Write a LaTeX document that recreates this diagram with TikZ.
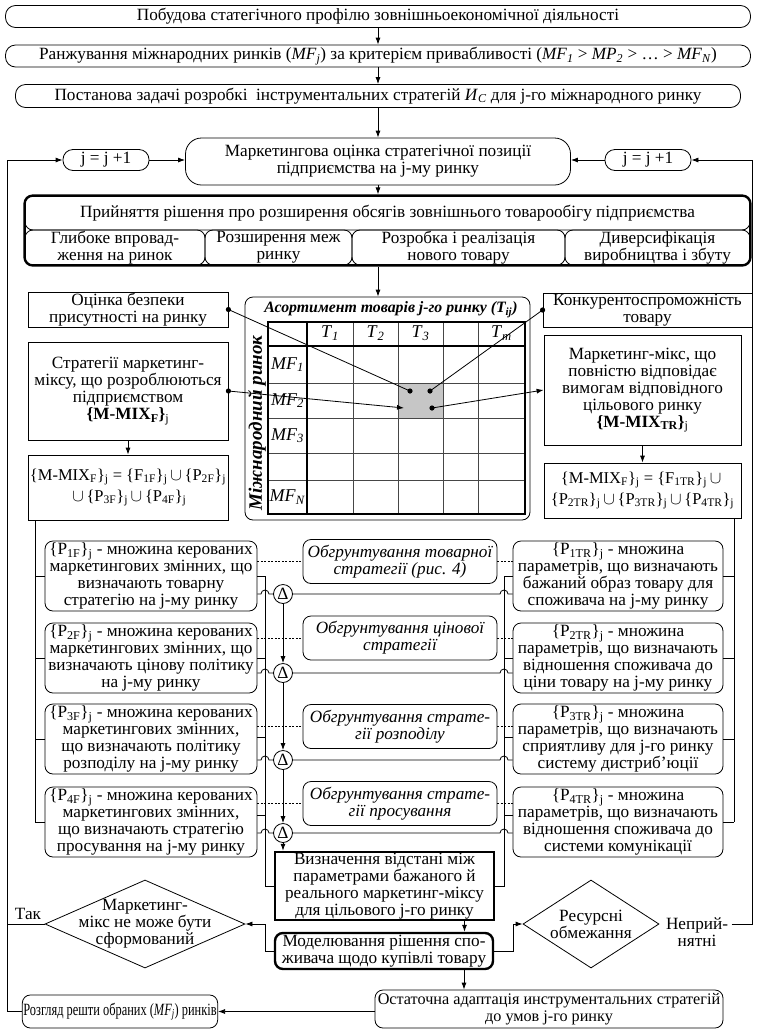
\documentclass[tikz,border=0pt]{standalone}
\usepackage{fontspec}
\setmainfont{Liberation Serif}
\usetikzlibrary{arrows.meta, positioning, shapes.geometric, fit, calc}
\newcommand\fs{\fontsize{17.2}{17}\selectfont}
\newcommand\fsf{\fontsize{16.5}{21}\selectfont}
\newcommand\sub[1]{\textsubscript{#1}}
\newcommand\imf[1]{\textit{MF}\textsubscript{\textit{#1}}}
\newcommand\pp[1]{\{P\textsubscript{#1}\}\textsubscript{j}}
\newcommand\ff[1]{\{F\textsubscript{#1}\}\textsubscript{j}}
\newcommand\cupp{\,$\cup$\,}

\begin{document}
\begin{tikzpicture}[x=1pt, y=-1pt, line width=0.8pt,
  every node/.style={font=\fs},
  rbox/.style={draw, rounded corners=8pt, align=center, inner sep=1pt},
  sbox/.style={draw, align=center, inner sep=1pt},
  tbox/.style={draw, rounded corners=8pt, line width=2.4pt},
  pbox/.style={rbox, minimum width=212pt, minimum height=70pt},
  qbox/.style={rbox, minimum width=210pt, minimum height=70pt},
  obox/.style={rbox, minimum width=194pt, minimum height=44pt, font=\fs\itshape},
  dlt/.style={circle, draw, inner sep=0pt, minimum size=19pt},
  dia/.style={diamond, draw, inner sep=0pt},
  dsh/.style={dashed, dash pattern=on 2pt off 1.5pt, line width=0.6pt},
  gline/.style={line width=0.7pt, gray!55!black},
  cellt/.style={font=\fontsize{18}{18}\selectfont},
  arr/.style={-{Latex[length=7pt,width=5pt]}}
]
\useasboundingbox (0,0) rectangle (756,1029);
\coordinate (lft) at (7,0);
\coordinate (rgt) at (752,0);
\coordinate (flb) at (35,0);
\coordinate (frb) at (734,0);
\coordinate (lb) at (265,0);
\coordinate (rb) at (504,0);
\coordinate (mr) at (513,0);

% top chain
\node[rbox, rounded corners=10pt, minimum width=745pt, minimum height=22pt] (prof) at (378,16.5) {Побудова статегічного профілю зовнішньоекономічної діяльності};
\node[rbox, rounded corners=10pt, minimum width=745pt, minimum height=22pt] (rank) at (378,56) {Ранжування міжнародних ринків (\imf{j}) за критерієм привабливості (\imf{1} > \textit{MP}\sub{\textit{2}} > … > \imf{N})};
\node[rbox, rounded corners=10pt, minimum width=725pt, minimum height=23pt] (task) at (378,96) {Постанова задачі розробкі\ \ інструментальних стратегій \textit{И}\sub{\textit{C}} для j-го міжнародного ринку};
\node[rbox, rounded corners=16pt, minimum width=385pt, minimum height=47pt] (mark) at (378,161.5) {Маркетингова оцінка стратегічної позиції\\підприємства на j-му ринку};
\node[rbox, rounded corners=10pt, minimum width=86pt, minimum height=21pt] (jl) at (106,160) {j = j +1};
\node[rbox, rounded corners=10pt, minimum width=86pt, minimum height=21pt] (jr) at (648,160) {j = j +1};
\draw[arr] (prof) -- (rank);
\draw[arr] (rank) -- (task);
\draw[arr] (task) -- (mark);
\draw[arr] (jl.east) -- (jl.east -| mark.west);
\draw[arr] (jr.west) -- (jr.west -| mark.east);

% decision block
\node[rbox, minimum width=725pt, minimum height=34pt] (acpt) at (387.5,213) {Прийняття рішення про розширення обсягів зовнішнього товарообігу підприємства};
\node[rbox, minimum width=180pt, minimum height=35pt] (w1) at (115,247.5) {Глибоке впровад-\\ження на ринок};
\node[rbox, minimum width=147pt, minimum height=35pt] (w2) at (278.5,247.5) {Розширення меж\\ринку};
\node[rbox, minimum width=213pt, minimum height=35pt] (w3) at (458.5,247.5) {Розробка і реалізація\\нового товару};
\node[rbox, minimum width=185pt, minimum height=35pt] (w4) at (657.5,247.5) {Диверсифікація\\виробництва і збуту};
\node[tbox, fit=(acpt)(w1)(w4), inner sep=0pt] (acptall) {};
\draw[arr] (mark.south) -- (mark.south |- acptall.north);

% assortment table
\node[rbox, minimum width=285pt, minimum height=223pt] (asrt) at (387.5,408.5) {};
\draw[arr] (acptall.south -| mark.south) -- (mark.south |- asrt.north);
\node[font=\fontsize{15.8}{16}\selectfont\bfseries\itshape] (asrtT) at (391,310) {Асортимент товарів j-го ринку (\textit{T}\sub{ij})};
\node[rotate=90, font=\fontsize{19}{19}\selectfont\bfseries\itshape] (mrk) at (257,423) {Міжнародний ринок};
\fill[gray!45] (398,383) rectangle (443,418);
\foreach \cx in {353,398,443,478} \draw[gline] (\cx,322) -- (\cx,514);
\foreach \ry in {383,418,453,480} \draw[gline] (268,\ry) -- (525,\ry);
\draw[line width=2.4pt] (268,322) rectangle (525,514);
\draw[line width=2.4pt] (307,322) -- (307,514) (268,346) -- (525,346);
\foreach \cx/\tl in {330/1, 375.5/2, 420.5/3, 501.5/m}
  \node[cellt] (t\tl) at (\cx,333) {\textit{T}\sub{\textit{\tl}}};
\foreach \ry/\rl in {364.5/1, 400.5/2, 435.5/3, 497/N}
  \node[cellt] (r\rl) at (287.5,\ry) {\textit{MF}\sub{\textit{\rl}}};
\coordinate (pa) at (410,391);
\coordinate (pb) at (430,391);
\coordinate (pc) at (432,408);
\coordinate (pd) at (404,408);

% firm side
\node[sbox, minimum width=200pt, minimum height=35pt] (safe) at (128,309.5) {Оцінка безпеки\\присутності на ринку};
\node[sbox, minimum width=200pt, minimum height=98pt] (smix) at (128,391) {Стратегії маркетинг-\\міксу, що розроблюються\\підприємством\\\textbf{\{M-MIX\sub{F}\}}\sub{j}};
\node[sbox, minimum width=200pt, minimum height=65pt, font=\fsf] (fmlF) at (128,487.5) {\{M-MIX\sub{F}\}\sub{j} = \ff{1F}\cupp\pp{2F}\\\cupp\pp{3F}\cupp\pp{4F}};
\draw[arr] (smix) -- (fmlF);

% target market side
\node[sbox, minimum width=209pt, minimum height=34pt] (comp) at (647.5,310) {Конкурентоспроможність\\товару};
\node[sbox, minimum width=197pt, minimum height=110pt] (tmix) at (642.5,390) {Маркетинг-мікс, що\\повністю відповідає\\вимогам відповідного\\цільового ринку\\\textbf{\{M-MIX\sub{TR}\}}\sub{j}};
\node[sbox, minimum width=197pt, minimum height=55pt, font=\fsf] (fmlT) at (642.5,490.5) {\{M-MIX\sub{F}\}\sub{j} = \ff{1TR}\cupp\\\pp{2TR}\cupp\pp{3TR}\cupp\pp{4TR}};
\draw[arr] (tmix) -- (fmlT);

\draw (safe.east) -- (pa);
\draw[arr] (smix.east) -- (pd);
\draw (pb) -- (comp.west);
\draw[arr] (pc) -- (tmix.west);
\foreach \p in {safe.east, smix.east, pa, pb, pc, comp.west} \fill (\p) circle (2.6pt);

% controlled variables
\node[pbox] (pf1) at (151,576) {\pp{1F} - множина керованих\\маркетингових змінних, що\\визначають товарну\\стратегію на j-му ринку};
\node[pbox] (pf2) at (151,658) {\pp{2F} - множина керованих\\маркетингових змінних, що\\визначають цінову політику\\на j-му ринку};
\node[pbox] (pf3) at (151,739) {\pp{3F} - множина керованих\\маркетингових змінних,\\що визначають політику\\розподілу на j-му ринку};
\node[pbox] (pf4) at (151,822) {\pp{4F} - множина керованих\\маркетингових змінних,\\що визначають стратегію\\просування на j-му ринку};

\node[qbox] (pt1) at (618,576) {\pp{1TR} - множина\\параметрів, що визначають\\бажаний образ товару для\\споживача на j-му ринку};
\node[qbox] (pt2) at (618,658) {\pp{2TR} - множина\\параметрів, що визначають\\відношення споживача до\\ціни товару на j-му ринку};
\node[qbox] (pt3) at (618,739) {\pp{3TR} - множина\\параметрів, що визначають\\сприятливу для j-го ринку\\систему дистриб’юції};
\node[qbox] (pt4) at (618,822) {\pp{4TR} - множина\\параметрів, що визначають\\відношення споживача до\\системи комунікації};

\node[obox] (ob1) at (400,561.5) {Обгрунтування товарної\\стратегії (рис. 4)};
\node[obox] (ob2) at (400,638) {Обгрунтування цінової\\стратегії};
\node[obox] (ob3) at (400,726.5) {Обгрунтування страте-\\гії розподілу};
\node[obox] (ob4) at (400,803.5) {Обгрунтування страте-\\гії просування};

\node[dlt] (dl1) at (283,594) {Δ};
\node[dlt] (dl2) at (283,673) {Δ};
\node[dlt] (dl3) at (283,760) {Δ};
\node[dlt] (dl4) at (283,833) {Δ};

\node[sbox, line width=2.4pt, minimum width=219pt, minimum height=68pt] (viz) at (384.5,886) {Визначення відстані між\\параметрами бажаного й\\реального маркетинг-міксу\\для цільового j-го ринку};
\node[rbox, line width=2.4pt, minimum width=218pt, minimum height=36pt] (model) at (384,951) {Моделювання рішення спо-\\живача щодо купівлі товару};

\foreach \i in {1,...,4} {
  \draw[dsh] (ob\i.west -| pf\i.east) -- (ob\i.west);
  \draw[dsh] (ob\i.east) -- (ob\i.east -| pt\i.west);
  \draw (dl\i.west -| pf\i.east) -- ([xshift=-4pt]dl\i.west -| lb) arc[start angle=180, end angle=0, radius=4pt] -- (dl\i.west);
  \draw (dl\i.east) -- ([xshift=-4pt]dl\i.east -| rb) arc[start angle=180, end angle=0, radius=4pt] -- (dl\i.east -| pt\i.west);
  \draw (pf\i.west) -- (pf\i.west -| flb);
  \draw (pt\i.east) -- (pt\i.east -| frb);
}
\foreach \i/\s in {1/0, 2/0, 3/2, 4/7} {
  \draw ([yshift=\s pt]pf\i.east) -- ([yshift=\s pt]pf\i.east -| lb);
  \draw ([yshift=\s pt]pt\i.west) -- ([yshift=\s pt]pt\i.west -| rb);
}
\draw (fmlF.south -| flb) -- (flb |- pf4.west);
\draw (fmlT.south -| frb) -- (frb |- pt4.east);
\draw (pf1.east -| lb) -- (lb |- viz.west) -- (viz.west);
\draw (pt1.west -| rb) -- (rb |- viz.east) -- (viz.east);
\draw[arr] (dl1) -- (dl2);
\draw[arr] (dl2) -- (dl3);
\draw[arr] (dl3) -- (dl4);
\draw[arr] (dl4) -- (dl4 |- viz.north);

% checks and exits
\node[dia, minimum width=200pt, minimum height=88pt] (dk) at (145,924) {};
\node[align=center] (dkT) at (dk) {Маркетинг-\\мікс не може бути\\сформований};
\node[dia, minimum width=136pt, minimum height=88pt] (dr) at (591,924) {};
\node[align=center] (drT) at (dr) {Ресурсні\\обмежання};
\node (tak) at (28,914) {Так};
\node[align=center] (nepr) at (697,932) {Неприй-\\нятні};

\node[rbox, minimum width=348pt, minimum height=38pt, font=\fontsize{16.2}{17}\selectfont] (ost) at (549,1009) {Остаточна адаптація инструментальних стратегій\\до умов j-го ринку};
\node[rbox, minimum width=190pt, minimum height=33pt] (rozg) at (120,1011.5) {\scalebox{0.72}[1]{Розгляд решти обраних (\imf{j}) ринків}};

\draw[arr] ([xshift=80pt]viz.south) -- ([xshift=80pt]viz.south |- model.north);
\draw[arr] (model.west) -- (model.west -| lb) |- (dk.east);
\draw[arr] (model.east) -- (model.east -| mr) |- (dr.west);
\draw[arr] ([xshift=80pt]model.south) -- ([xshift=80pt]model.south |- ost.north);
\draw[arr] (ost.west |- rozg.east) -- (rozg.east);
\draw[arr] (rozg.west) -- (rozg.west -| lft) |- (jl.west);
\draw (dk.west) -- (dk.west -| lft);
\draw[arr] (nepr.east |- dr.east) -- (dr.east -| rgt) |- (jr.east);
\end{tikzpicture}
\end{document}
